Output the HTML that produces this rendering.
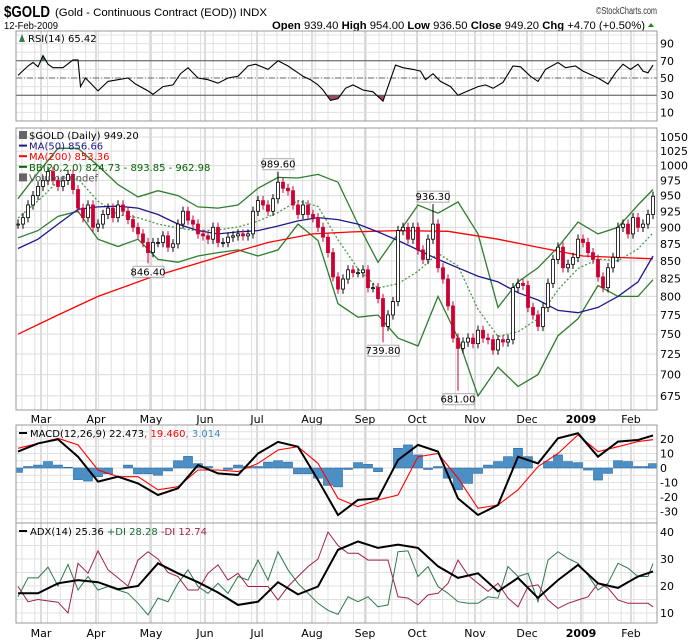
<!DOCTYPE html>
<html><head><meta charset="utf-8"><style>
body{margin:0;background:#fff;width:700px;height:639px;overflow:hidden;font-family:"Liberation Sans",sans-serif}
svg text{font-family:"DejaVu Sans","Liberation Sans",sans-serif}
svg text.hd{font-family:"Liberation Sans",sans-serif}
</style></head><body>
<svg id="c" width="700" height="639" xmlns="http://www.w3.org/2000/svg">
<defs>
<clipPath id="cpMain"><rect x="16" y="128" width="641" height="282"/></clipPath>
<clipPath id="cpRsi"><rect x="16" y="31" width="641" height="90"/></clipPath>
<clipPath id="cpMacd"><rect x="16" y="425" width="641" height="98"/></clipPath>
<clipPath id="cpAdx"><rect x="16" y="523" width="641" height="100"/></clipPath>
</defs>
<text class="hd" x="4" y="17" font-size="16" font-weight="bold" textLength="46" lengthAdjust="spacingAndGlyphs">$GOLD</text>
<text class="hd" x="55" y="16" font-size="11" textLength="212" lengthAdjust="spacingAndGlyphs">(Gold - Continuous Contract (EOD)) INDX</text>
<text class="hd" x="596" y="14" font-size="10" textLength="61" lengthAdjust="spacingAndGlyphs" fill="#333">©StockCharts.com</text>
<text class="hd" x="4" y="29" font-size="10.5" textLength="54" lengthAdjust="spacingAndGlyphs">12-Feb-2009</text>
<text class="hd" x="272" y="29" font-size="11" textLength="373" lengthAdjust="spacingAndGlyphs"><tspan font-weight="bold">Open</tspan> 939.40 <tspan font-weight="bold">High</tspan> 954.00 <tspan font-weight="bold">Low</tspan> 936.50 <tspan font-weight="bold">Close</tspan> 949.20 <tspan font-weight="bold">Chg</tspan> +4.70 (+0.50%)</text>
<path d="M648 27 L654 27 L651 23 Z" fill="#1a8a1a"/>
<g id="g"></g>
</svg>
<script>
// ---- data ----
const closes=[905,915,935,950,965,975,990,975,965,975,985,960,930,915,935,900,905,920,930,915,935,925,912,900,890,877,862,877,877,887,870,875,905,925,911,905,890,887,882,900,877,877,885,
887,890,887,890,925,942,935,925,945,972,962,958,935,920,935,920,915,900,885,862,827,810,824,837,833,833,837,812,812,797,760,775,793,895,900,882,900,866,852,882,905,840,824,787,745,732,740,745,738,755,745,743,730,743,740,743,812,818,815,785,775,760,785,818,852,870,840,845,855,882,877,862,852,827,812,840,855,900,905,890,915,900,905,920,949];
const extremeIdx=[26,52,73,83,88];
const extremeVal=[846.4,989.6,739.8,936.3,681.0];
const extremeIsHigh=[false,true,false,true,false];
const ma50Idx=[0,4,8,12,16,20,24,28,32,36,40,44,48,52,56,60,64,68,72,76,80,84,88,92,96,100,104,108,112,116,120,124,127];
const ma50=[868,882,905,928,932,933,930,920,905,895,890,893,895,902,910,915,912,905,893,880,866,852,840,828,820,805,795,781,778,785,800,820,857];
const ma200Idx=[0,8,16,26,43,50,59,67,76,86,96,104,113,127];
const ma200=[750,775,800,825,862,877,890,893,895,894,882,870,857,853];
const bbIdx=[0,4,8,12,16,20,24,28,32,36,40,44,48,52,56,60,64,68,72,76,80,84,88,92,96,100,104,108,112,116,120,124,127];
const bbUpper=[945,988,1030,1030,1000,968,948,958,950,932,930,935,962,980,979,985,972,905,848,890,935,922,940,890,785,820,840,870,908,890,900,935,960];
const bbLower=[884,895,917,925,882,871,882,852,848,857,862,866,857,866,905,880,790,772,775,745,735,800,745,675,709,686,700,748,770,815,800,800,823];
const rsiIdx=[0,2,3,4,5,6,7,9,11,12,12.5,13.5,16,18,20,22,23.5,26,27,29,31,32.5,34,36,38,40,42,44,46,47.5,50,52,54,56,57,58.5,60,61,62.5,64,65.5,67,69,71,73,74,75.5,77,79,80.5,81.5,83,84.5,86.5,88,90,92,93.5,95,97,99,100.5,102.5,104,105.5,108,109.5,111.5,113,116,118,119.5,121,122.5,124,125,126,127];
const rsi=[53,64,68,63,76,66,62,62,71,71,40,50,35,46,48,50,43,35,31,40,42,55,62,50,48,44,50,52,64,66,60,70,64,56,52,48,42,36,24,26,38,42,36,34,23,40,65,62,60,58,48,55,46,40,30,35,40,42,38,45,64,63,52,46,60,68,62,64,58,50,43,56,66,60,66,58,56,65];
const macdIdx=[0,4,8,12,16,20,24,28,32,36,40,44,48,52,56,60,64,68,72,76,80,84,88,92,96,100,104,108,112,116,120,124,127];
const macd=[11.3,17,19.8,7.8,-9.4,-6,-10.6,-18.6,-14,2,-3.7,-4.8,10,18,14.7,-8.3,-32.4,-22,-21,5.5,15.9,11.3,-21,-32.4,-25.5,7.8,3.2,20.5,23.9,7.8,18.2,19.3,22.5];
const signal=[13.6,17,20.5,15.9,-1.4,-6,-6,-15,-12.9,-1.4,-1.4,-2.5,3.2,12.4,14.7,3.2,-21,-26.7,-22,-18.6,7.8,10,-7,-27.8,-25.5,-15,0.9,10,22.8,11.3,14.7,18.2,19.5];
const histIdx=[0,2,4,6,8,10,12,14,16,18,20,22,24,26,28,30,32,34,36,38,40,42,44,46,48,50,52,54,56,58,60,62,64,66,68,70,72,74,76,78,80,82,84,86,88,90,92,94,96,98,100,102,104,106,108,110,112,114,116,118,120,122,124,126,127];
const hist=[-3,1,2,4.4,2,0.5,-8,-9,-6,-4,0,2,-4,-4,-5,-2,5,8,3,1,0,-1,2,1,1,4,5,4,-4,-4,-7,-12,-13,-1,3.7,2.5,-2.5,0,13.6,15.9,9,-1,1,-7,-15,-10.6,-3.7,2,4.4,7.8,13.6,7.8,0,4.4,9,4.4,3.7,-1.4,-8.3,-3.7,5,4.4,1,1,3];
const adxIdx=macdIdx;
const adx=[17.3,17.3,21,22.2,21.4,18.8,20,28.4,24.7,21.4,17.6,13,14.2,21.4,16.9,19.8,33.4,36.5,34.1,35.3,34.1,27.3,23,24.7,18,23,15.6,22.2,27.8,21,19.3,23.5,25.4];
const diIdx=histIdx;
const plusDI=[16,23,23,27,20,28,18.5,23.5,18.5,19.8,18.5,17.3,13.6,9.3,15.5,14.2,21,26,19.8,17.3,21,17.3,23.5,22.2,29.6,22.2,32.7,26,21,17.3,13.6,11,9.5,16,14.2,16,12.3,13,32.7,33,23.5,27.2,19.8,17.3,14.2,13.6,13.6,16,15.5,27.2,23.5,24.7,14.2,29.6,32.7,30.2,28.4,24,18.5,21,28.4,26.6,23.5,23.5,28.3];
const minusDI=[19.8,14.2,15,14.5,14,10,28.4,24.7,33,26,23,20,29.6,32.7,30,25,23.5,18.5,18.5,24.7,27.8,22.2,24.7,19.8,19.8,19.8,14.8,19.8,23.5,27.2,30,40,35,32.1,32.1,29.6,29.6,29.6,16,15.5,13,16.7,17.3,21,29.6,24,21,18,21,15.5,12.3,19.8,20.4,14.8,11.7,13.6,14.8,16,21,19.3,14.8,13.6,13.6,13.6,12.3];
const priceTicks=[1050,1025,1000,975,950,925,900,875,850,825,800,775,750,725,700,675];
const rsiTicks=[90,70,50,30,10];
const macdTicks=[20,10,0,-10,-20,-30];
const adxTicks=[40,30,20,10];
const monthLabels=["Mar","Apr","May","Jun","Jul","Aug","Sep","Oct","Nov","Dec","2009","Feb"];
const monthBar=[4.6,15.6,26.6,37.4,47.8,58.8,69.4,79.8,91.4,101.8,112.6,122.6];

// ---- scales ----
const X0=18,DX=5,L=16,R=657;
const bx=i=>X0+i*DX;
const py=v=>137+(Math.log(1050)-Math.log(v))*586;
const ry=v=>121-0.86*v;
const my=v=>468-v*1.45;
const ay=v=>640-v*2.7;
const NS="http://www.w3.org/2000/svg";
const G=document.getElementById('g');
function mk(tag,attrs,parent){const e=document.createElementNS(NS,tag);for(const k in attrs)e.setAttribute(k,attrs[k]);(parent||G).appendChild(e);return e;}
function pathOf(idx,vals,yf){return idx.map((i,k)=>(k?'L':'M')+bx(i).toFixed(1)+' '+yf(vals[k]).toFixed(1)).join(' ');}

const panels=[[31,121,'rsi-panel'],[128,410,'price-panel'],[425,523,'macd-panel'],[523,623,'adx-panel']];
panels.forEach(p=>{
  const r=mk('rect',{x:L,y:p[0],width:R-L,height:p[1]-p[0],fill:'#fff',stroke:'none'});
  
  
  for(let x=L+6;x<R;x+=12.75){mk('line',{x1:x,x2:x,y1:p[0],y2:p[1],stroke:'#e0e0e0','stroke-width':1});}
  monthBar.forEach(b=>{mk('line',{x1:bx(b),x2:bx(b),y1:p[0],y2:p[1],stroke:'#b8b8b8','stroke-width':1});});
});
for(let v=0;v<=100;v+=10){mk('line',{x1:L,x2:R,y1:ry(v),y2:ry(v),stroke:'#e0e0e0'});}
priceTicks.forEach(v=>mk('line',{x1:L,x2:R,y1:py(v),y2:py(v),stroke:'#dcdcdc'}));
for(let v=-35;v<=25;v+=5){mk('line',{x1:L,x2:R,y1:my(v),y2:my(v),stroke:'#e0e0e0'});}
for(let v=10;v<=40;v+=5){mk('line',{x1:L,x2:R,y1:ay(v),y2:ay(v),stroke:'#e0e0e0'});}
function tick(v,y,name){const t=mk('text',{x:660,y:y+4,'font-size':11,fill:'#000'});t.textContent=v;
  
  }
priceTicks.forEach(v=>tick(v,py(v),'price-tick'));
rsiTicks.forEach(v=>tick(v,ry(v),'rsi-tick'));
macdTicks.forEach(v=>tick(v,my(v),'macd-tick'));
adxTicks.forEach(v=>tick(v,ay(v),'adx-tick'));
monthLabels.forEach((m,k)=>{[419,633].forEach(y=>{const t=mk('text',{x:bx(monthBar[k]),y:y+4,'font-size':11,'text-anchor':'middle','font-weight':m==='2009'?'bold':'normal'});t.textContent=m;
  
  });});

// RSI
const gR=mk('g',{'clip-path':'url(#cpRsi)'});
const rp=pathOf(rsiIdx,rsi,ry);
mk('clipPath',{id:'above70'},gR);mk('rect',{x:L,y:0,width:700,height:ry(70)},document.getElementById('above70'));
mk('clipPath',{id:'below30'},gR);mk('rect',{x:L,y:ry(30),width:700,height:100},document.getElementById('below30'));
mk('path',{d:rp+` L${bx(127)} ${ry(70)} L${bx(0)} ${ry(70)} Z`,fill:'#4a8a5a','clip-path':'url(#above70)'},gR);
mk('path',{d:rp+` L${bx(127)} ${ry(30)} L${bx(0)} ${ry(30)} Z`,fill:'#a04a6a','clip-path':'url(#below30)'},gR);
mk('line',{x1:L,x2:R,y1:ry(70),y2:ry(70),stroke:'#555'},gR);
mk('line',{x1:L,x2:R,y1:ry(30),y2:ry(30),stroke:'#555'},gR);
mk('line',{x1:L,x2:R,y1:ry(50),y2:ry(50),stroke:'#666','stroke-dasharray':'6 2 1 2'},gR);
const rl=mk('path',{d:rp,fill:'none',stroke:'#000','stroke-width':1.1},gR);


const rt=mk('text',{x:28,y:42,'font-size':10});rt.textContent='RSI(14) 65.42';


mk('path',{d:'M19 42 L22 34 L25 42 Z',fill:'#3a7a4a'});

// Price
const gP=mk('g',{'clip-path':'url(#cpMain)'});
const midBB=bbUpper.map((u,k)=>(u+bbLower[k])/2);
const bu=mk('path',{d:pathOf(bbIdx,bbUpper,py),fill:'none',stroke:'#2e7d2e','stroke-width':1.3},gP);


const bl=mk('path',{d:pathOf(bbIdx,bbLower,py),fill:'none',stroke:'#2e7d2e','stroke-width':1.3},gP);


const bm=mk('path',{d:pathOf(bbIdx,midBB,py),fill:'none',stroke:'#4a9a4a','stroke-width':1.3,'stroke-dasharray':'2 2'},gP);


const m2=mk('path',{d:pathOf(ma200Idx,ma200,py),fill:'none',stroke:'#ff0000','stroke-width':1.3},gP);


const m5=mk('path',{d:pathOf(ma50Idx,ma50,py),fill:'none',stroke:'#1a1a8c','stroke-width':1.3},gP);


closes.forEach((c,i)=>{
  const o=i?closes[i-1]:c;let hi=Math.max(o,c)*1.008,lo=Math.min(o,c)*0.992;
  const e=extremeIdx.indexOf(i);if(e>=0){if(extremeIsHigh[e])hi=extremeVal[e];else lo=extremeVal[e];}
  const down=c<o,col=down?'#cc0033':'#000',x=bx(i);
  mk('line',{x1:x,x2:x,y1:py(hi),y2:py(lo),stroke:col,'stroke-width':1},gP);
  const y1=py(Math.max(o,c)),y2=py(Math.min(o,c));
  const b=mk('rect',{x:x-1.5,y:y1,width:3,height:Math.max(1,y2-y1),fill:down?col:'#fff',stroke:col,'stroke-width':0.8},gP);
  
  
});
extremeIdx.forEach((i,k)=>{
  const v=extremeVal[k],x=bx(i),y=extremeIsHigh[k]?py(v)-13:py(v)+3;
  mk('rect',{x:x-15,y:y,width:31,height:11,fill:'#fff',stroke:'#aaa'});
  const t=mk('text',{x:x,y:y+9,'font-size':10,'text-anchor':'middle'});t.textContent=v.toFixed(2);
  
  
});
const leg=[['$GOLD (Daily) 949.20','#000','price-legend'],['MA(50) 856.66','#1a1a8c','ma50-legend'],['MA(200) 853.36','#ff0000','ma200-legend'],['BB(20,2.0) 824.73 - 893.85 - 962.98','#006400','bb-legend'],['Volume undef','#555','volume-legend']];
leg.forEach((l,k)=>{const y=139+k*10.6;
  if(k>0&&k<4)mk('line',{x1:19,x2:27,y1:y-4,y2:y-4,stroke:l[1],'stroke-width':2});
  else mk('rect',{x:19,y:y-8,width:8,height:8,fill:'#666'});
  const t=mk('text',{x:29,y:y,'font-size':10,fill:l[1]});t.textContent=l[0];
  
  });

// MACD
const gM=mk('g',{'clip-path':'url(#cpMacd)'});
hist.forEach((h,k)=>{const x=bx(histIdx[k]);const y0=my(0),y1=my(h);
  const b=mk('rect',{x:x-4.5,y:Math.min(y0,y1),width:9,height:Math.abs(y1-y0),fill:'#4a90c8',stroke:'#2a6496','stroke-width':0.6},gM);
  
  });
const ms=mk('path',{d:pathOf(macdIdx,signal,my),fill:'none',stroke:'#ff0000','stroke-width':1.1},gM);


const ml=mk('path',{d:pathOf(macdIdx,macd,my),fill:'none',stroke:'#000','stroke-width':2},gM);


mk('line',{x1:19,x2:27,y1:433,y2:433,stroke:'#000','stroke-width':2});
const mt=mk('text',{x:30,y:437,'font-size':10});mt.innerHTML='MACD(12,26,9) 22.473<tspan fill="#ff0000">, 19.460</tspan><tspan fill="#3a8ac0">, 3.014</tspan>';



// ADX
const gA=mk('g',{'clip-path':'url(#cpAdx)'});
const pd=mk('path',{d:pathOf(diIdx,plusDI,ay),fill:'none',stroke:'#2a7a4a','stroke-width':1},gA);


const nd=mk('path',{d:pathOf(diIdx,minusDI,ay),fill:'none',stroke:'#a0204a','stroke-width':1},gA);


const al=mk('path',{d:pathOf(adxIdx,adx,ay),fill:'none',stroke:'#000','stroke-width':2},gA);


mk('line',{x1:19,x2:27,y1:531,y2:531,stroke:'#000','stroke-width':2});
const at=mk('text',{x:30,y:535,'font-size':10});at.innerHTML='ADX(14) 25.36 <tspan fill="#1a6a3a">+DI 28.28</tspan> <tspan fill="#a0204a">-DI 12.74</tspan>';



// borders
panels.forEach(p=>mk('rect',{x:L,y:p[0],width:R-L,height:p[1]-p[0],fill:'none',stroke:'#999'}));
</script>
</body></html>
